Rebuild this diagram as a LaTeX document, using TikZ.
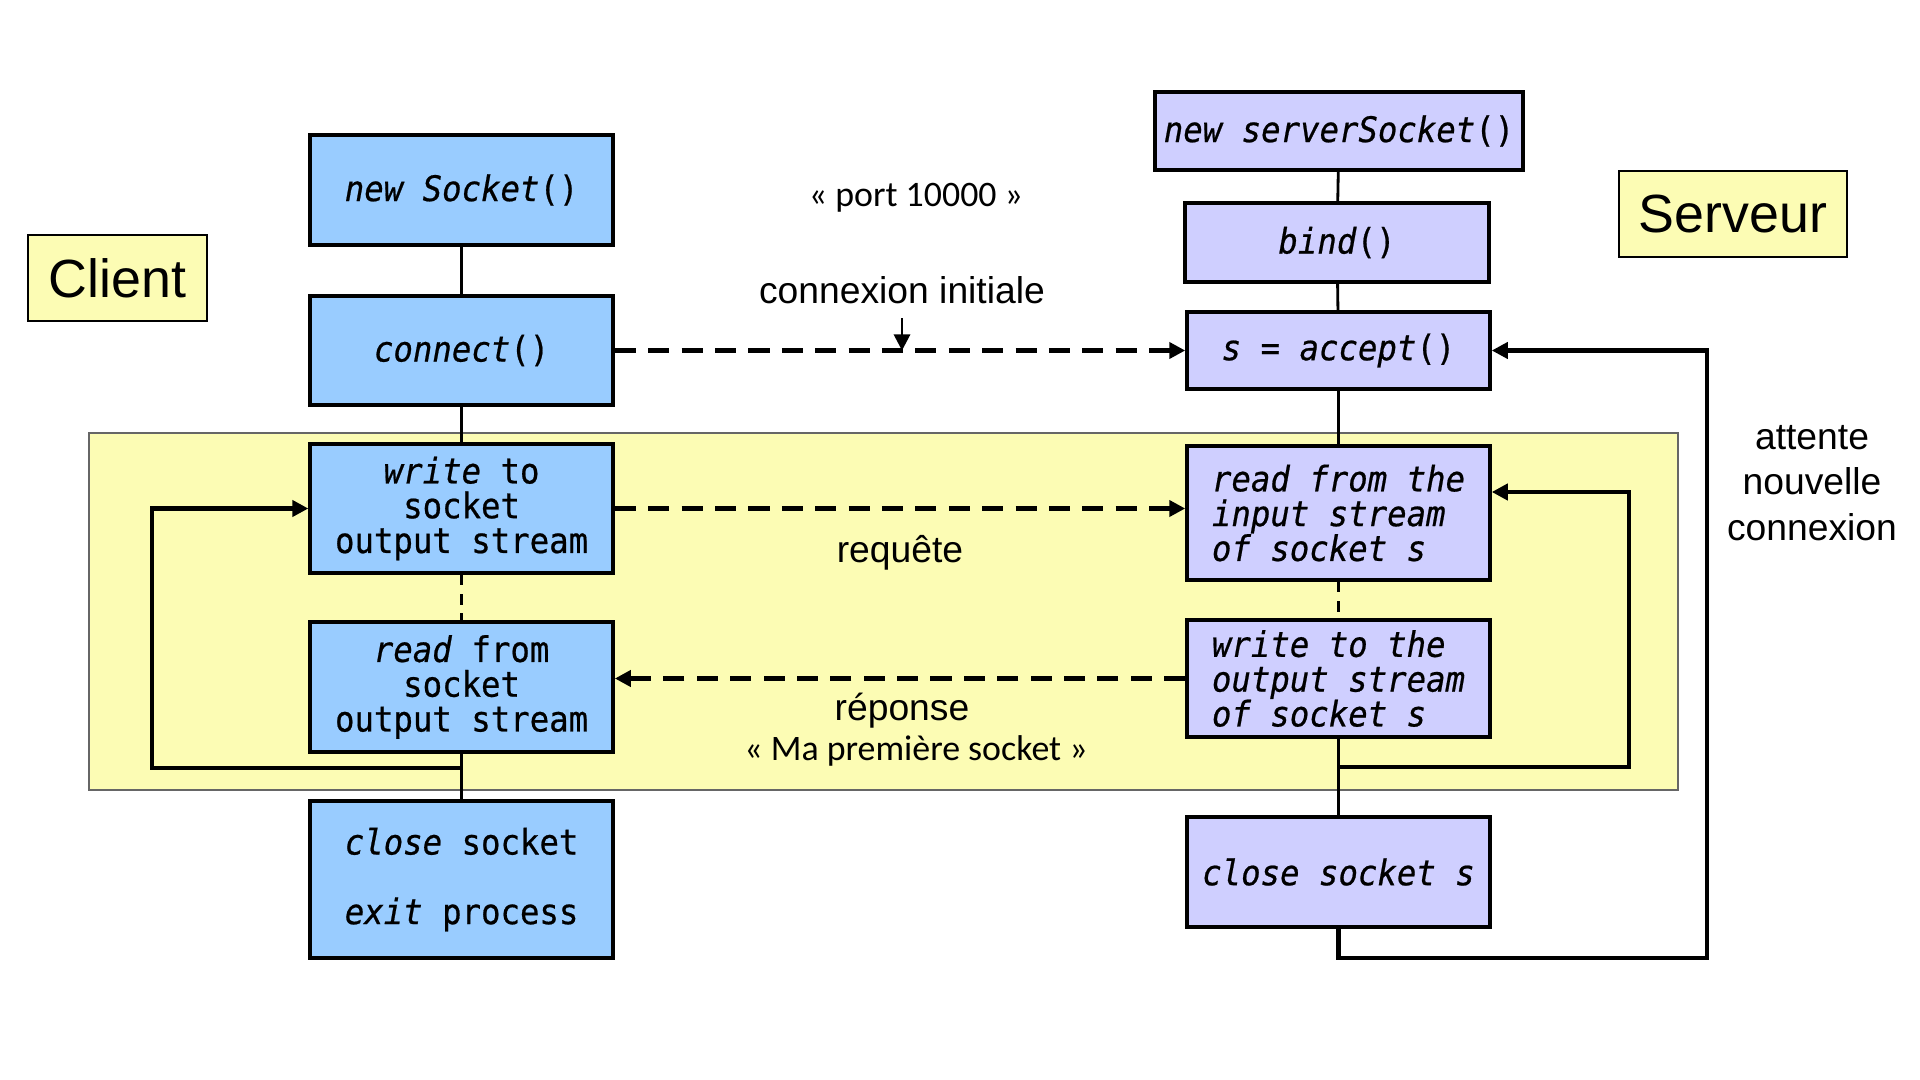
\documentclass[tikz,border=0pt]{standalone}
\usepackage{fontspec}
\setmainfont{Liberation Sans}
\newfontfamily\codefont[FakeStretch=0.92, FakeBold=0.6]{DejaVu Sans Mono}
\newfontfamily\quotefont{Carlito}
\usetikzlibrary{arrows.meta}
\definecolor{clientblue}{HTML}{99CCFF}
\definecolor{serverlilac}{HTML}{CFCFFF}
\definecolor{noteyellow}{HTML}{FCFCB4}
\begin{document}
\begin{tikzpicture}[
		yscale=-1,
		every node/.style={inner sep=0pt},
		call/.style={draw, line width=1pt, minimum width=3.03cm, align=center, font=\codefont\fontsize{10}{9.9}\selectfont},
		client/.style={call, fill=clientblue},
		server/.style={call, fill=serverlilac},
		side/.style={draw, line width=0.8pt, fill=noteyellow, minimum height=0.86cm, font=\fontsize{15.3}{18}\selectfont},
		talk/.style={font=\fontsize{10.6}{13}\selectfont, align=center},
		quote/.style={font=\quotefont\fontsize{10.2}{12}\selectfont},
		link/.style={line width=0.8pt},
		msg/.style={line width=1.3pt, dash pattern=on 6pt off 3.5pt, -{Triangle[length=1.6mm,width=1.6mm]}},
		back/.style={line width=1.3pt, -{Triangle[length=1.6mm,width=1.6mm]}},
	]
	\path[use as bounding box] (0,0) rectangle (19.2,10.8);
	\filldraw[fill=noteyellow, draw=black!60, line width=0.5pt] (0.89,4.33) rectangle (16.78,7.90);
	\node[side, minimum width=1.79cm] (client) at (1.175,2.78) {Client};
	\node[side, minimum width=2.28cm] (serveur) at (17.33,2.14) {Serveur};
	% client side
	\node[client, minimum height=1.10cm] (newsock) at (4.616,1.90) {\textit{new Socket}()};
	\node[client, minimum height=1.09cm] (connect) at (4.616,3.505) {\textit{connect}()};
	\node[client, minimum height=1.29cm] (cwrite) at (4.616,5.085) {\textit{write} to\\socket\\output stream};
	\node[client, minimum height=1.30cm] (cread) at (4.616,6.87) {\textit{read} from\\socket\\output stream};
	\node[client, minimum height=1.57cm] (cclose) at (4.616,8.795) {\textit{close} socket\\[9.9pt]\textit{exit} process};
	% server side
	\node[server, minimum width=3.68cm, minimum height=0.78cm] (newserv) at (13.39,1.31) {\textit{new serverSocket}()};
	\node[server, minimum width=3.04cm, minimum height=0.79cm] (bind) at (13.37,2.425) {\textit{bind}()};
	\node[server, minimum height=0.77cm] (accept) at (13.385,3.505) {\textit{s = accept}()};
	\node[server, minimum height=1.34cm, align=left] (sread) at (13.385,5.13) {\textit{read from the}\\\textit{input stream}\\\textit{of socket s}};
	\node[server, minimum height=1.17cm, align=left] (swrite) at (13.385,6.785) {\textit{write to the}\\\textit{output stream}\\\textit{of socket s}};
	\node[server, minimum height=1.10cm] (sclose) at (13.385,8.72) {\textit{close socket s}};
	% labels
	\node[quote] (port) at (9.16,1.98) {« port 10000 »};
	\node[talk, inner ysep=4pt] (initial) at (9.02,2.90) {connexion initiale};
	\node[talk] (requete) at (9.00,5.53) {requête};
	\node[talk] (reponse) at (9.02,7.11) {réponse};
	\node[quote] (payload) at (9.16,7.51) {« Ma première socket »};
	\node[talk] (attente) at (18.12,4.83) {attente\\nouvelle\\connexion};
	% client flow
	\draw[link] (newsock) -- (connect);
	\draw[link] (connect) -- (cwrite);
	\draw[link, dash pattern=on 3pt off 2.5pt] (cwrite) -- (cread);
	\draw[link] (cread) -- (cclose);
	\coordinate (cturn) at (4.616,7.68);
	\coordinate (cback) at (1.52,7.68);
	\draw[back] (cturn) -- (cback) |- (cwrite.west);
	% server flow
	\draw[link] (newserv) -- (bind);
	\draw[link] (bind) -- (accept);
	\draw[link] (accept) -- (sread);
	\draw[link, dash pattern=on 3pt off 2.5pt] (sread) -- (swrite);
	\draw[link] (swrite) -- (sclose);
	\coordinate (sturn) at (13.385,7.67);
	\coordinate (sback) at (16.29,4.92);
	\draw[back] (sturn) -| (sback) -- (sread.east |- sback);
	\coordinate (newconn) at (17.07,9.58);
	\draw[back] (sclose) |- (newconn) |- (accept);
	% messages
	\draw[msg] (connect) -- (accept);
	\draw[msg] (cwrite.east) -- (cwrite.east -| sread.west);
	\draw[msg] (swrite.west) -- (swrite.west -| cread.east);
	\draw[line width=0.8pt, -{Triangle[length=1.6mm,width=1.6mm]}] (initial) -- (initial |- connect);
\end{tikzpicture}
\end{document}
